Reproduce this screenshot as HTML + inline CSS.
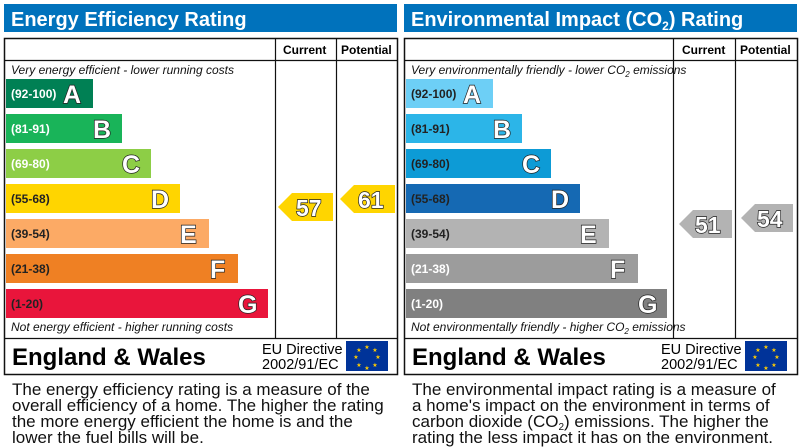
<!DOCTYPE html>
<html><head><meta charset="utf-8"><style>
html,body{margin:0;padding:0;background:#fff;width:800px;height:447px;overflow:hidden}
svg{display:block;font-family:"Liberation Sans",Arial,sans-serif}
.bl{font-size:12px;font-weight:bold}
.L{font-size:25px;font-weight:bold;fill:#fff;stroke:#222;stroke-width:1.4;paint-order:stroke}
.N{font-size:23px;font-weight:bold;fill:#fff;stroke:#222;stroke-width:1.4;paint-order:stroke}
.it{font-size:12px;font-style:italic;fill:#111}
.hd{font-size:12px;font-weight:bold}
.ew{font-size:24px;font-weight:bold}
.eu{font-size:14.5px}
.d{font-size:17px;fill:#111}
.t{font-size:20px;font-weight:bold;fill:#fff}
</style></head><body>
<svg width="800" height="447" viewBox="0 0 800 447">
<!-- LEFT -->
<rect x="4" y="4" width="393" height="28" fill="#0072bc"/>
<text x="11" y="26" class="t">Energy Efficiency Rating</text>
<rect x="4.5" y="38.5" width="393" height="336" fill="none" stroke="#111" stroke-width="1.5"/>
<line x1="4" y1="60.5" x2="397" y2="60.5" stroke="#111" stroke-width="1.2"/>
<line x1="4" y1="338.5" x2="397" y2="338.5" stroke="#111" stroke-width="1.2"/>
<line x1="275.5" y1="38" x2="275.5" y2="338" stroke="#111" stroke-width="1.2"/>
<line x1="336.5" y1="38" x2="336.5" y2="338" stroke="#111" stroke-width="1.2"/>
<text x="283" y="54" class="hd">Current</text><text x="341" y="54" class="hd">Potential</text>
<text x="11" y="74" class="it">Very energy efficient - lower running costs</text>
<rect x="6" y="79" width="87" height="29" fill="#008054"/><text x="11" y="98" class="bl" fill="#fff">(92-100)</text><text x="63" y="103" class="L">A</text>
<rect x="6" y="114" width="116" height="29" fill="#19b459"/><text x="11" y="133" class="bl" fill="#fff">(81-91)</text><text x="93" y="138" class="L">B</text>
<rect x="6" y="149" width="145" height="29" fill="#8dce46"/><text x="11" y="168" class="bl" fill="#fff">(69-80)</text><text x="122" y="173" class="L">C</text>
<rect x="6" y="184" width="174" height="29" fill="#ffd500"/><text x="11" y="203" class="bl" fill="#222">(55-68)</text><text x="151" y="208" class="L">D</text>
<rect x="6" y="219" width="203" height="29" fill="#fcaa65"/><text x="11" y="238" class="bl" fill="#222">(39-54)</text><text x="180" y="243" class="L">E</text>
<rect x="6" y="254" width="232" height="29" fill="#ef8023"/><text x="11" y="273" class="bl" fill="#222">(21-38)</text><text x="210" y="278" class="L">F</text>
<rect x="6" y="289" width="262" height="29" fill="#e9153b"/><text x="11" y="308" class="bl" fill="#222">(1-20)</text><text x="238" y="313" class="L">G</text>
<text x="11" y="331" class="it">Not energy efficient - higher running costs</text>
<polygon points="278,207 292,193 333,193 333,221 292,221" fill="#ffd500"/><text x="296" y="216" class="N">57</text>
<polygon points="340,199 354,185 395,185 395,213 354,213" fill="#ffd500"/><text x="358" y="208" class="N">61</text>
<text x="12" y="365" class="ew">England &amp; Wales</text>
<text x="262" y="354" class="eu">EU Directive</text><text x="262" y="369" class="eu">2002/91/EC</text>
<rect x="346" y="341" width="42" height="30" fill="#003399"/>
<g fill="#ffcc00" font-size="6" text-anchor="middle"><text x="367" y="349">★</text><text x="367" y="370">★</text><text x="356" y="359">★</text><text x="378" y="359">★</text><text x="359" y="352">★</text><text x="375" y="352">★</text><text x="359" y="367">★</text><text x="375" y="367">★</text></g>
<text x="12" y="395" class="d">The energy efficiency rating is a measure of the</text>
<text x="12" y="411" class="d">overall efficiency of a home. The higher the rating</text>
<text x="12" y="427" class="d">the more energy efficient the home is and the</text>
<text x="12" y="443" class="d">lower the fuel bills will be.</text>
<!-- RIGHT -->
<rect x="404" y="4" width="393" height="28" fill="#0072bc"/>
<text x="411" y="26" class="t">Environmental Impact (CO<tspan font-size="12" dy="4">2</tspan><tspan dy="-4">) Rating</tspan></text>
<rect x="404.5" y="38.5" width="393" height="336" fill="none" stroke="#111" stroke-width="1.5"/>
<line x1="404" y1="60.5" x2="797" y2="60.5" stroke="#111" stroke-width="1.2"/>
<line x1="404" y1="338.5" x2="797" y2="338.5" stroke="#111" stroke-width="1.2"/>
<line x1="673.5" y1="38" x2="673.5" y2="338" stroke="#111" stroke-width="1.2"/>
<line x1="735.5" y1="38" x2="735.5" y2="338" stroke="#111" stroke-width="1.2"/>
<text x="682" y="54" class="hd">Current</text><text x="740" y="54" class="hd">Potential</text>
<text x="411" y="74" class="it">Very environmentally friendly - lower CO<tspan font-size="8" dy="3">2</tspan><tspan dy="-3"> emissions</tspan></text>
<rect x="406" y="79" width="87" height="29" fill="#6dcff6"/><text x="411" y="98" class="bl" fill="#222">(92-100)</text><text x="463" y="103" class="L">A</text>
<rect x="406" y="114" width="116" height="29" fill="#2cb5e8"/><text x="411" y="133" class="bl" fill="#222">(81-91)</text><text x="493" y="138" class="L">B</text>
<rect x="406" y="149" width="145" height="29" fill="#0d9bd6"/><text x="411" y="168" class="bl" fill="#222">(69-80)</text><text x="522" y="173" class="L">C</text>
<rect x="406" y="184" width="174" height="29" fill="#1569b3"/><text x="411" y="203" class="bl" fill="#222">(55-68)</text><text x="551" y="208" class="L">D</text>
<rect x="406" y="219" width="203" height="29" fill="#b3b3b3"/><text x="411" y="238" class="bl" fill="#222">(39-54)</text><text x="580" y="243" class="L">E</text>
<rect x="406" y="254" width="232" height="29" fill="#9c9c9c"/><text x="411" y="273" class="bl" fill="#fff">(21-38)</text><text x="610" y="278" class="L">F</text>
<rect x="406" y="289" width="261" height="29" fill="#808080"/><text x="411" y="308" class="bl" fill="#fff">(1-20)</text><text x="638" y="313" class="L">G</text>
<text x="411" y="331" class="it">Not environmentally friendly - higher CO<tspan font-size="8" dy="3">2</tspan><tspan dy="-3"> emissions</tspan></text>
<polygon points="679,224 693,210 732,210 732,238 693,238" fill="#b3b3b3"/><text x="695" y="233" class="N">51</text>
<polygon points="741,218 755,204 793,204 793,232 755,232" fill="#b3b3b3"/><text x="757" y="227" class="N">54</text>
<text x="412" y="365" class="ew">England &amp; Wales</text>
<text x="661" y="354" class="eu">EU Directive</text><text x="661" y="369" class="eu">2002/91/EC</text>
<rect x="745" y="341" width="42" height="30" fill="#003399"/>
<g fill="#ffcc00" font-size="6" text-anchor="middle"><text x="766" y="349">★</text><text x="766" y="370">★</text><text x="755" y="359">★</text><text x="777" y="359">★</text><text x="758" y="352">★</text><text x="774" y="352">★</text><text x="758" y="367">★</text><text x="774" y="367">★</text></g>
<text x="412" y="395" class="d">The environmental impact rating is a measure of</text>
<text x="412" y="411" class="d">a home's impact on the environment in terms of</text>
<text x="412" y="427" class="d">carbon dioxide (CO<tspan font-size="10" dy="3">2</tspan><tspan dy="-3">) emissions. The higher the</tspan></text>
<text x="412" y="443" class="d">rating the less impact it has on the environment.</text>
</svg>
</body></html>
